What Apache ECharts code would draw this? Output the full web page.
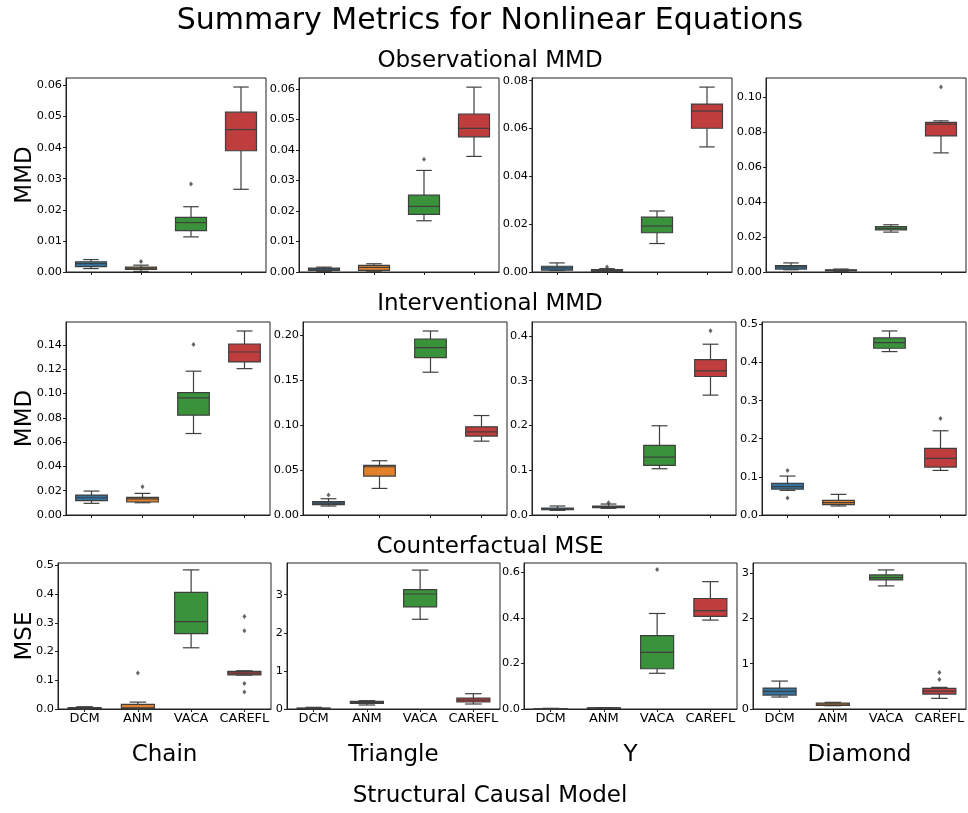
<!DOCTYPE html>
<html>
<head>
<meta charset="utf-8">
<script src="https://cdn.jsdelivr.net/npm/echarts@6/dist/echarts.min.js"></script>
<style>
html,body{margin:0;padding:0;background:#fff;}
#chart{width:968px;height:813px;}
</style>
</head>
<body>
<div id="chart"></div>
<script>
// ---------- DATA ----------
const models = ['DCM', 'ANM', 'VACA', 'CAREFL'];
const scms = ['Chain', 'Triangle', 'Y', 'Diamond'];
const metrics = ['Observational MMD', 'Interventional MMD', 'Counterfactual MSE'];
const yNames = ['MMD', 'MMD', 'MSE'];

// box stats per model: [lowerWhisker, Q1, median, Q3, upperWhisker]
// outliers: [modelIndex, value]
const obsChain = [[0.0011,0.0017,0.0027,0.0033,0.0040],[0.0002,0.0008,0.0012,0.0016,0.0022],[0.0113,0.0133,0.0159,0.0176,0.0210],[0.0266,0.0390,0.0458,0.0514,0.0595]];
const obsChainOut = [[1,0.0034],[2,0.0283]];
const obsTriangle = [[0.0002,0.0005,0.0010,0.0013,0.0016],[0.0001,0.0005,0.0015,0.0022,0.0027],[0.0168,0.0189,0.0215,0.0252,0.0333],[0.0379,0.0443,0.0471,0.0518,0.0606]];
const obsTriangleOut = [[2,0.0370]];
const obsY = [[0.0006,0.0008,0.0017,0.0024,0.0038],[0.0001,0.0003,0.0007,0.0010,0.0014],[0.0119,0.0164,0.0192,0.0229,0.0255],[0.0523,0.0601,0.0673,0.0702,0.0773]];
const obsYOut = [[1,0.0021]];
const obsDiamond = [[0.0013,0.0017,0.0029,0.0036,0.0052],[0.0002,0.0006,0.0010,0.0013,0.0017],[0.0228,0.0241,0.0250,0.0260,0.0270],[0.0681,0.0778,0.0845,0.0855,0.0864]];
const obsDiamondOut = [[3,0.1057]];

const intChain = [[0.0096,0.0118,0.0142,0.0164,0.0197],[0.0101,0.0107,0.0132,0.0145,0.0178],[0.0671,0.0822,0.0964,0.1008,0.1184],[0.1205,0.1260,0.1342,0.1408,0.1515]];
const intChainOut = [[1,0.0233],[2,0.1403]];
const intTriangle = [[0.0100,0.0115,0.0133,0.0148,0.0181],[0.0296,0.0433,0.0537,0.0552,0.0604],[0.1589,0.1752,0.1863,0.1959,0.2048],[0.0822,0.0878,0.0926,0.0981,0.1107]];
const intTriangleOut = [[0,0.0222]];
const intY = [[0.0104,0.0119,0.0134,0.0156,0.0201],[0.0149,0.0164,0.0186,0.0201,0.0245],[0.1033,0.1108,0.1294,0.1554,0.1993],[0.2677,0.3093,0.3219,0.3472,0.3814]];
const intYOut = [[1,0.0275],[3,0.4112]];
const intDiamond = [[0.0646,0.0681,0.0742,0.0829,0.1021],[0.0236,0.0271,0.0323,0.0384,0.0541],[0.4284,0.4372,0.4520,0.4642,0.4825],[0.1169,0.1257,0.1483,0.1745,0.2208]];
const intDiamondOut = [[0,0.1169],[0,0.0445],[3,0.2531]];

const cfChain = [[0.000,0.001,0.003,0.005,0.008],[0.000,0.001,0.004,0.016,0.024],[0.213,0.262,0.304,0.406,0.484],[0.118,0.119,0.125,0.131,0.133]];
const cfChainOut = [[1,0.125],[3,0.322],[3,0.272],[3,0.089],[3,0.059]];
const cfTriangle = [[0.000,0.009,0.017,0.026,0.044],[0.105,0.148,0.174,0.200,0.218],[2.354,2.677,3.017,3.130,3.644],[0.131,0.183,0.235,0.288,0.401]];
const cfTriangleOut = [];
const cfY = [[0.000,0.001,0.0015,0.002,0.003],[0.002,0.003,0.004,0.005,0.006],[0.157,0.177,0.249,0.323,0.420],[0.391,0.407,0.433,0.486,0.560]];
const cfYOut = [[2,0.613]];
const cfDiamond = [[0.264,0.308,0.389,0.462,0.616],[0.073,0.081,0.110,0.132,0.147],[2.715,2.847,2.898,2.957,3.067],[0.235,0.330,0.396,0.455,0.477]];
const cfDiamondOut = [[3,0.807],[3,0.653]];

// y-axis tick settings per panel (row-major)
const yTickStep = [0.01,0.01,0.02,0.02, 0.02,0.05,0.1,0.1, 0.1,1,0.2,1];
const yTickDecimals = [2,2,2,2, 2,2,1,1, 1,0,1,0];

// ---------- LAYOUT / STYLE ----------
const panels = [
  [obsChain,obsChainOut],[obsTriangle,obsTriangleOut],[obsY,obsYOut],[obsDiamond,obsDiamondOut],
  [intChain,intChainOut],[intTriangle,intTriangleOut],[intY,intYOut],[intDiamond,intDiamondOut],
  [cfChain,cfChainOut],[cfTriangle,cfTriangleOut],[cfY,cfYOut],[cfDiamond,cfDiamondOut]
];
const yMaxes = [0.0624,0.0636,0.0811,0.1109, 0.1589,0.2148,0.431,0.506, 0.508,3.83,0.642,3.22];
const rowTop = [78, 322, 563];
const rowHeight = [194, 193, 146];
const rowLefts = [[66,299,532,766],[66,303,532,762],[58,287,524,753]];
const rowWidth = [200, 204, 213];
const rowTitleY = [61, 304, 547];

const COLORS = ['#3274a1', '#e1812c', '#3a923a', '#c03d3e'];
const LINE = '#3f3f3f';
const FONT = '"DejaVu Sans", sans-serif';

function renderBox(params, api) {
  const idx = api.value(0);
  const lo = api.coord([idx, api.value(1)]);
  const q1 = api.coord([idx, api.value(2)]);
  const md = api.coord([idx, api.value(3)]);
  const q3 = api.coord([idx, api.value(4)]);
  const hi = api.coord([idx, api.value(5)]);
  const bw = api.size([1, 0])[0] * 0.62;
  const cw = bw * 0.5;
  const x = lo[0];
  const ls = {stroke: LINE, lineWidth: 1.2, fill: null};
  return {
    type: 'group',
    children: [
      {type: 'line', shape: {x1: x, y1: q3[1], x2: x, y2: hi[1]}, style: ls},
      {type: 'line', shape: {x1: x, y1: q1[1], x2: x, y2: lo[1]}, style: ls},
      {type: 'line', shape: {x1: x - cw/2, y1: hi[1], x2: x + cw/2, y2: hi[1]}, style: ls},
      {type: 'line', shape: {x1: x - cw/2, y1: lo[1], x2: x + cw/2, y2: lo[1]}, style: ls},
      {type: 'rect', shape: {x: x - bw/2, y: q3[1], width: bw, height: Math.max(q1[1] - q3[1], 0.5)},
        style: {fill: COLORS[idx], stroke: LINE, lineWidth: 1.2}},
      {type: 'line', shape: {x1: x - bw/2, y1: md[1], x2: x + bw/2, y2: md[1]}, style: ls}
    ]
  };
}

const grids = [], xAxes = [], yAxes = [], series = [];
panels.forEach(([boxes, outs], k) => {
  const r = Math.floor(k / 4), c = k % 4;
  grids.push({left: rowLefts[r][c], top: rowTop[r], width: rowWidth[r], height: rowHeight[r],
    show: true, borderColor: '#222', borderWidth: 1, backgroundColor: 'transparent', containLabel: false});
  xAxes.push({
    type: 'category', gridIndex: k, data: models, boundaryGap: true,
    axisLine: {show: true, lineStyle: {color: '#222', width: 1}},
    axisTick: {show: true, alignWithLabel: true, length: 3, lineStyle: {color: '#222'}},
    axisLabel: {show: r === 2, color: '#000', fontSize: 13, fontFamily: FONT, margin: 3, interval: 0},
    splitLine: {show: false}
  });
  const step = yTickStep[k], dec = yTickDecimals[k];
  yAxes.push({
    type: 'value', gridIndex: k, min: 0, max: yMaxes[k], interval: step,
    axisLine: {show: true, lineStyle: {color: '#222', width: 1}},
    axisTick: {show: true, length: 3, lineStyle: {color: '#222'}},
    axisLabel: {
      color: '#000', fontSize: 11.3, fontFamily: FONT, margin: 4, showMaxLabel: false,
      formatter: v => {
        const m = v / step;
        return Math.abs(m - Math.round(m)) < 1e-6 ? v.toFixed(dec) : '';
      }
    },
    splitLine: {show: false}
  });
  series.push({
    type: 'custom', xAxisIndex: k, yAxisIndex: k,
    renderItem: renderBox,
    encode: {x: 0, y: [1, 2, 3, 4, 5]},
    data: boxes.map((b, i) => [i].concat(b)),
    silent: true, clip: false
  });
  series.push({
    type: 'scatter', xAxisIndex: k, yAxisIndex: k,
    symbol: 'diamond', symbolSize: [4, 5],
    itemStyle: {color: LINE},
    data: outs.map(o => [o[0], o[1]]),
    silent: true
  });
});

const graphics = [];
const txt = (text, x, y, size, rot) => graphics.push({
  type: 'text', x: x, y: y, rotation: rot || 0,
  style: {text: text, fill: '#000', font: size + 'px ' + FONT, textAlign: 'center', textVerticalAlign: 'middle'}
});
txt('Summary Metrics for Nonlinear Equations', 490, 21, 30);
metrics.forEach((m, r) => {
  txt(m, 490, rowTitleY[r], 23);
  txt(yNames[r], 25, rowTop[r] + rowHeight[r] / 2, 23, Math.PI / 2);
});
scms.forEach((s, c) => {
  txt(s, rowLefts[2][c] + rowWidth[2] / 2, 755, 23);
});
txt('Structural Causal Model', 490, 796, 23);

const chart = echarts.init(document.getElementById('chart'), null, {renderer: 'canvas'});
chart.setOption({
  animation: false,
  backgroundColor: '#fff',
  grid: grids,
  xAxis: xAxes,
  yAxis: yAxes,
  series: series,
  graphic: graphics
});
</script>
</body>
</html>
